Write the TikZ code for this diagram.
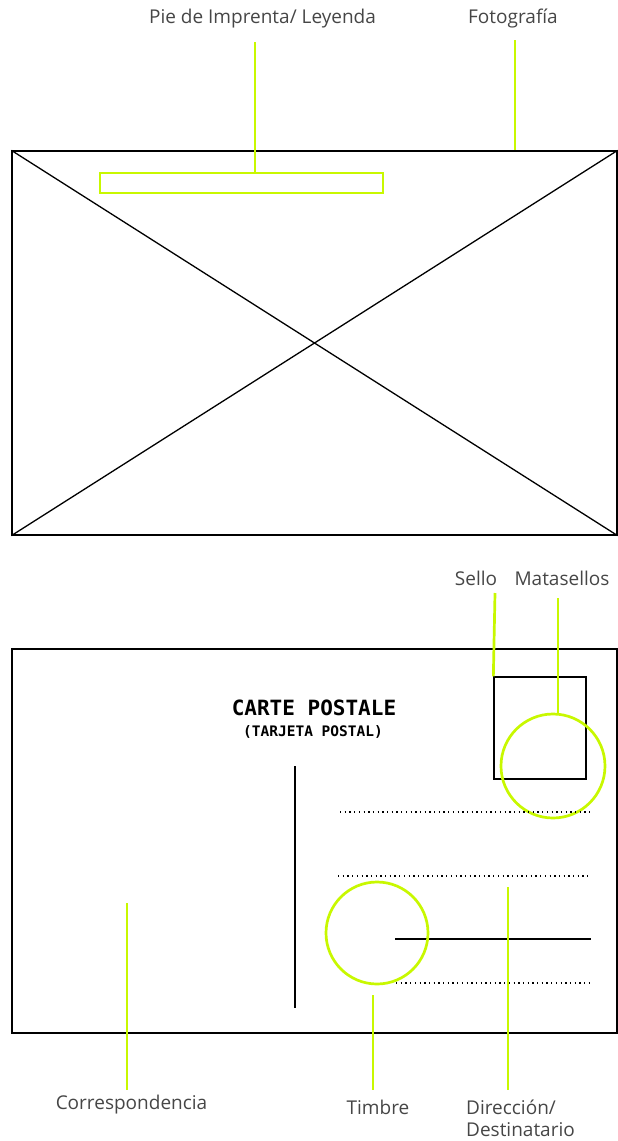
\documentclass[tikz,border=0pt]{standalone}
\usepackage{fontspec}
\setmainfont{Open Sans}
\newfontfamily\monofont{DejaVu Sans Mono}
\usepackage{xcolor}
\usetikzlibrary{positioning,calc}
\definecolor{limegreen}{RGB}{200,248,0}
\definecolor{labelgray}{RGB}{70,70,70}

\tikzset{
  callout/.style={draw=limegreen, line width=2.7pt},
  wire/.style={draw=black, line width=1.3pt},
  dotline/.style={draw=black, line width=1.3pt, dash pattern=on 1.3pt off 3.4pt},
  caption/.style={font=\fontsize{19}{22}\selectfont, text=labelgray, inner sep=0pt},
  card/.style={wire, minimum width=605pt, minimum height=384pt, inner sep=0pt},
  ring/.style={callout, circle, inner sep=0pt},
}

\begin{document}
\begin{tikzpicture}[x=1pt, y=-1pt]
    \useasboundingbox (0,0) rectangle (618,1141);

    % Front side (photo)
    \node[card] (front) at (314.5,343) {};
    \draw[wire] (front.north west) -- (front.south east);
    \draw[wire] (front.south west) -- (front.north east);
    \node[callout, fill=white, minimum width=283pt, minimum height=20pt, inner sep=0pt] (pie) at (241.5,183) {};

    % Front labels
    \node[caption] (leyenda) at (262.5,19) {Pie de Imprenta/ Leyenda};
    \node[caption] (foto) at (513,19) {Fotografía};
    \coordinate (leyendaend) at (255,42);
    \coordinate (fotoend) at (515,40);
    \draw[callout] (leyendaend) -- (leyendaend |- pie.north);
    \draw[callout] (fotoend) -- (fotoend |- front.north);

    % Back side (address)
    \node[card] (back) at (314.5,841) {};
    \node[font=\monofont\bfseries\fontsize{21}{24}\selectfont, inner sep=0pt] (title) at (314,708) {CARTE POSTALE};
    \node[font=\monofont\bfseries\fontsize{14.5}{17}\selectfont, inner sep=0pt] (subtitle) at (313,732) {(TARJETA POSTAL)};
    \coordinate (divtop) at (295,766);
    \coordinate (divbot) at (295,1008);
    \draw[wire] (divtop) -- (divbot);

    % Stamp and postmark
    \node[wire, minimum width=92pt, minimum height=102pt, inner sep=0pt] (sello) at (540,728) {};
    \node[ring, minimum size=104pt] (matasellos) at (553,766) {};

    % Address lines
    \coordinate (a1) at (340,812);  \coordinate (a1e) at (591,812);
    \coordinate (a2) at (338,876);  \coordinate (a2e) at (590,876);
    \coordinate (a3) at (395,939);  \coordinate (a3e) at (591,939);
    \coordinate (a4) at (396,983);  \coordinate (a4e) at (590,983);
    \draw[dotline] (a1) -- (a1e);
    \draw[dotline] (a2) -- (a2e);
    \draw[wire] (a3) -- (a3e);
    \draw[dotline] (a4) -- (a4e);

    % Revenue stamp
    \node[ring, minimum size=102pt] (timbre) at (377,933) {};

    % Back labels
    \node[caption] (lsello) at (476,578) {Sello};
    \node[caption] (lmatasellos) at (562,578) {Matasellos};
    \node[caption] (lcorr) at (131.5,1105) {Correspondencia};
    \node[caption] (ltimbre) at (378,1107) {Timbre};
    \node[caption, anchor=west, align=left] (ldir) at (466,1118) {Dirección/\\Destinatario};

    \coordinate (sellotop) at (495,593);
    \coordinate (mattop) at (558,598);
    \coordinate (corrtop) at (127,903);
    \coordinate (corrbot) at (127,1090);
    \coordinate (timtop) at (373,995);
    \coordinate (timbot) at (373,1090);
    \coordinate (dirtop) at (508,887);
    \coordinate (dirbot) at (508,1090);
    \draw[callout] (sellotop) -- (sello.north west);
    \draw[callout] (mattop) -- (mattop |- matasellos.north);
    \draw[callout] (corrtop) -- (corrbot);
    \draw[callout] (timtop) -- (timbot);
    \draw[callout] (dirtop) -- (dirbot);
\end{tikzpicture}
\end{document}
